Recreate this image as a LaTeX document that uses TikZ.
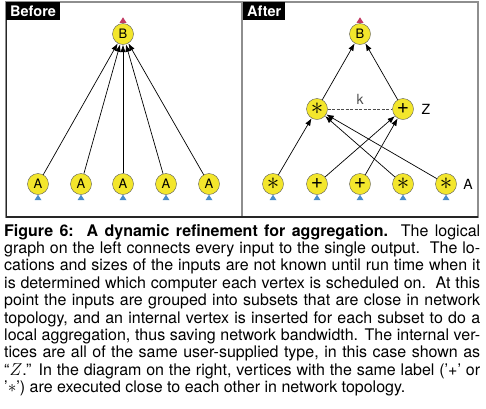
\documentclass[tikz,border=0pt]{standalone}
\usepackage{fontspec}
\setmainfont{TeX Gyre Heros}
\usepackage{tikz}
\usetikzlibrary{arrows.meta}
\definecolor{vtxyellow}{HTML}{F3E62C}
\definecolor{inblue}{HTML}{4A8CCB}
\definecolor{outred}{HTML}{C23A63}
\definecolor{framegray}{HTML}{8E8E8E}
\tikzset{
  vtx/.style={circle, draw=black!65, fill=vtxyellow, minimum size=21pt, inner sep=0pt,
    font=\fontsize{13}{13}\selectfont},
  flow/.style={-{Latex[length=7.5pt,width=5.5pt]}, line width=0.7pt},
  tag/.style={fill=black, text=white, font=\bfseries\fontsize{14.5}{14.5}\selectfont,
    inner xsep=4pt, minimum height=18pt, anchor=north west},
  side/.style={font=\fontsize{14}{14}\selectfont},
}
\newcommand{\asym}{{\fontsize{23}{23}\selectfont\raisebox{-1.3pt}{$\ast$}}}
\newcommand{\psym}{{\fontsize{21}{21}\selectfont+}}
\newcommand{\inmark}[1]{\fill[inblue] (#1.south) -- ++(3.5,5.5) -- ++(-7,0) -- cycle;}
\newcommand{\outmark}[1]{\fill[outred] (#1.north) ++(-3.5,-0.5) -- ++(7,0) -- ++(-3.5,-5.5) -- cycle;}
\begin{document}
\begin{tikzpicture}[x=1pt,y=-1pt]
\useasboundingbox (0,0) rectangle (486,408);
% the two panels
\draw[framegray, line width=1.2pt] (6,2) rectangle (478,217);
\draw[framegray, line width=1.4pt] (242,2) -- (242,217);
\draw[black!85, line width=1.3pt] (6,217) -- (478,217);
\draw[black!85, line width=1pt] (6,2) -- (6,217);
\node[tag] (before) at (6,2) {Before};
\node[tag] (after) at (243,2) {After};

% Before
\node[vtx] (b1) at (123,34) {B};
\outmark{b1}
\foreach \i/\x in {1/38,2/81,3/123,4/166,5/209}{
  \node[vtx] (a\i) at (\x,184) {A};
  \inmark{a\i}
  \draw[flow] (a\i) -- (b1);
}

% After
\node[vtx] (b2) at (360,34) {B};
\outmark{b2}
\node[vtx] (zs) at (317,109) {\asym};
\node[vtx] (zp) at (403,109) {\psym};
\node[side] (zlab) at (426,109) {Z};
\draw[black!70, dash pattern=on 3pt off 1.5pt] (zs) -- (zp) node[midway, above=1pt, side] (klab) {k};

\node[vtx] (s1) at (273,184) {\asym};
\node[vtx] (p1) at (317,184) {\psym};
\node[vtx] (p2) at (360,184) {\psym};
\node[vtx] (s2) at (403,184) {\asym};
\node[vtx] (s3) at (446,184) {\asym};
\node[side] (alab) at (468,184) {A};
\foreach \n in {s1,p1,p2,s2,s3}{\inmark{\n}}

\draw[flow] (s1) -- (zs);
\draw[flow] (p1) -- (zp);
\draw[flow] (p2) -- (zp);
\draw[flow] (s2) -- (zs);
\draw[flow] (s3) -- (zs);
\draw[flow] (zs) -- (b2);
\draw[flow] (zp) -- (b2);

% caption
\node[anchor=north west, text width=476pt, align=justify, inner sep=0pt,
  font=\fontsize{16}{17.4}\selectfont] (caption) at (4,224) {%
\textbf{Figure 6:\ \ A dynamic refinement for aggregation.}\ \ The logical\linebreak
graph on the left connects every input to the single output.\ \ The lo-\linebreak
cations and sizes of the inputs are not known until run time when it\linebreak
is determined which computer each vertex is scheduled on.\ \ At this\linebreak
point the inputs are grouped into subsets that are close in network\linebreak
topology, and an internal vertex is inserted for each subset to do a\linebreak
local aggregation, thus saving network bandwidth. The internal ver-\linebreak
tices are all of the same user-supplied type, in this case shown as\linebreak
“$Z$.” In the diagram on the right, vertices with the same label (’+’ or\linebreak
’$\ast$’) are executed close to each other in network topology.};
\end{tikzpicture}
\end{document}
